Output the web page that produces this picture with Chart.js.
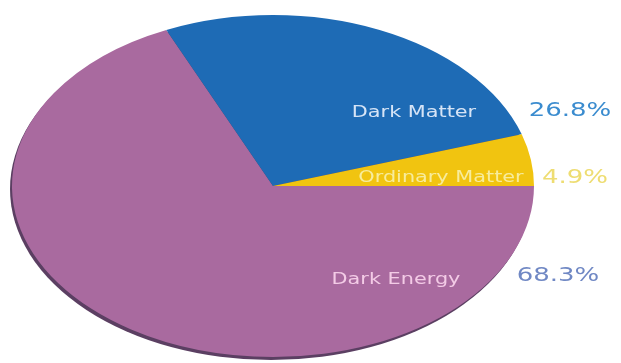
<!DOCTYPE html>
<html>
<head>
<meta charset="utf-8">
<script src="https://cdn.jsdelivr.net/npm/chart.js@4.4.0/dist/chart.umd.min.js"></script>
<style>
  body { margin: 0; background: #fff; }
  #wrap { width: 621px; height: 363px; }
</style>
</head>
<body>
<div id="wrap"><canvas id="myChart"></canvas></div>
<script>
// data
const categories = ['Dark Energy', 'Dark Matter', 'Ordinary Matter'];
const shares = [68.3, 26.8, 4.9];
const valueLabels = ['68.3%', '26.8%', '4.9%'];

// styles
const sliceColors = ['#a96a9f', '#1e6bb5', '#f1c410'];
const nameColors = ['#f3cbe6', '#d6e4f6', '#f7ec9c'];
const valueColors = ['#7088c4', '#3b8ccf', '#eedd72'];
// label offsets from pie centre, px: [nameDx, nameDy, valueDx, valueDy]
const labelOffsets = [
    [123, 94, 285, 90],
    [141, -73, 297, -75],
    [168, -8, 302, -8]
];
const squash = 0.655;   // vertical flattening of the pie
const stretch = 1.3;    // horizontal stretch of the text

const ellipsePlugin = {
    id: 'ellipse',
    beforeDatasetsDraw(chart) {
        const ctx = chart.ctx;
        const arc = chart.getDatasetMeta(0).data[0];
        if (!arc) return;
        const r = arc.outerRadius;
        // rim / shadow under the pie
        ctx.save();
        ctx.fillStyle = '#5b3f62';
        ctx.beginPath();
        ctx.ellipse(arc.x - 2, arc.y + 3, r, r * squash, 0, 0, Math.PI * 2);
        ctx.fill();
        ctx.restore();

        ctx.save();
        ctx.translate(arc.x, arc.y);
        ctx.scale(1, squash);
        ctx.translate(-arc.x, -arc.y);
    },
    afterDatasetsDraw(chart) {
        chart.ctx.restore();
    },
    afterDraw(chart) {
        const ctx = chart.ctx;
        const arcs = chart.getDatasetMeta(0).data;
        const drawText = (txt, x, y, font, color) => {
            ctx.save();
            ctx.translate(x, y);
            ctx.scale(stretch, 1);
            ctx.font = font;
            ctx.fillStyle = color;
            ctx.textAlign = 'center';
            ctx.textBaseline = 'middle';
            ctx.fillText(txt, 0, 0);
            ctx.restore();
        };
        arcs.forEach((arc, i) => {
            const o = labelOffsets[i];
            drawText(categories[i], arc.x + o[0], arc.y + o[1], '16px "DejaVu Sans"', nameColors[i]);
            drawText(valueLabels[i], arc.x + o[2], arc.y + o[3], '20px "DejaVu Sans"', valueColors[i]);
        });
    }
};

const ctx = document.getElementById('myChart').getContext('2d');
const myChart = new Chart(ctx, {
    type: 'pie',
    data: {
        labels: categories,
        datasets: [{
            data: shares,
            backgroundColor: sliceColors,
            borderWidth: 0,
            radius: 261,
            clip: false
        }]
    },
    options: {
        responsive: true,
        maintainAspectRatio: false,
        animation: false,
        rotation: 90,
        layout: { padding: { left: 0, right: 75, top: 9, bottom: 0 } },
        plugins: {
            legend: { display: false },
            tooltip: { enabled: false }
        }
    },
    plugins: [ellipsePlugin]
});
</script>
</body>
</html>
